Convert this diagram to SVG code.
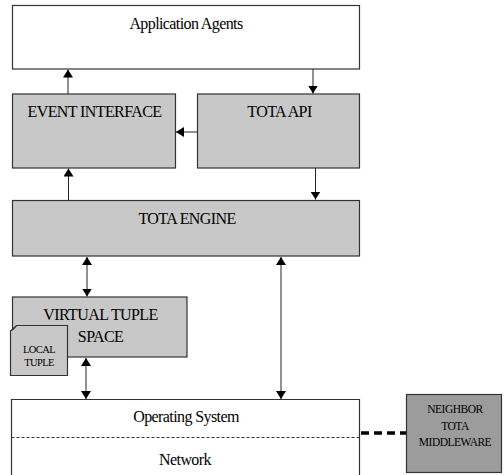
<svg xmlns="http://www.w3.org/2000/svg" width="504" height="475" viewBox="0 0 504 475">
<style>
.box{stroke:#333;stroke-width:1.2}
.white{fill:#fff}
.gray{fill:#c8c8c8}
.dark{fill:#9c9c9c}
text{font-family:'Liberation Serif','Times New Roman',Times,serif;fill:#000;text-anchor:middle}
.t{font-size:16px;letter-spacing:-0.6px}
.s{font-size:10.5px;letter-spacing:-0.6px}
.n{font-size:11.5px;letter-spacing:-0.5px}
.c{stroke:#222;stroke-width:1;fill:none}
</style>
<defs>
<marker id="ah" viewBox="0 0 10 10" refX="10" refY="5" markerWidth="8" markerHeight="10" markerUnits="userSpaceOnUse" orient="auto-start-reverse" preserveAspectRatio="none">
<path d="M0,0 L10,5 L0,10 Z" fill="#000"/>
</marker>
</defs>
<rect width="504" height="475" fill="#fff"/>
<g id="app-agents">
<rect class="box white" x="12.5" y="5.5" width="347" height="63.5"/>
<text class="t" x="186" y="29">Application Agents</text>
</g>
<g id="event-interface">
<rect class="box gray" x="12.5" y="94" width="163" height="74"/>
<text class="t" x="94.5" y="117">EVENT INTERFACE</text>
</g>
<g id="tota-api">
<rect class="box gray" x="197.5" y="94" width="162" height="74"/>
<text class="t" x="279.5" y="117">TOTA API</text>
</g>
<g id="tota-engine">
<rect class="box gray" x="12.5" y="200.5" width="347" height="55.5"/>
<text class="t" x="187" y="224">TOTA ENGINE</text>
</g>
<g id="virtual-tuple-space">
<rect class="box gray" x="12.5" y="297" width="174.5" height="60"/>
<text class="t" x="100.5" y="320">VIRTUAL TUPLE</text>
<text class="t" x="100.5" y="342">SPACE</text>
</g>
<g id="local-tuple">
<path class="box gray" d="M10.5,331 L16.5,325.5 L67.5,325.5 L67.5,375.5 L10.5,375.5 Z"/>
<path d="M10.5,331 L14,329 L16.5,325.5" fill="none" stroke="#333" stroke-width="1"/>
<text class="s" x="39" y="352.5">LOCAL</text>
<text class="s" x="39" y="365.5">TUPLE</text>
</g>
<g id="os-network">
<path class="box white" d="M11.5,477 L11.5,399.5 L359.5,399.5 L359.5,477"/>
<line x1="11.5" y1="437.5" x2="359.5" y2="437.5" stroke="#333" stroke-width="1" stroke-dasharray="3,2"/>
<text class="t" x="186" y="422">Operating System</text>
<text class="t" x="185" y="465">Network</text>
</g>
<g id="neighbor">
<rect class="box dark" x="406.5" y="394.5" width="95" height="78"/>
<text class="n" x="455" y="413">NEIGHBOR</text>
<text class="n" x="455" y="430">TOTA</text>
<text class="n" x="455" y="445.5">MIDDLEWARE</text>
</g>
<g id="connectors">
<line class="c" x1="68" y1="94" x2="68" y2="69.5" marker-end="url(#ah)"/>
<line class="c" x1="313" y1="69" x2="313" y2="93.5" marker-end="url(#ah)"/>
<line class="c" x1="197" y1="132" x2="176" y2="132" marker-end="url(#ah)"/>
<line class="c" x1="68.5" y1="200" x2="68.5" y2="168.5" marker-end="url(#ah)"/>
<line class="c" x1="315.5" y1="168" x2="315.5" y2="199.5" marker-end="url(#ah)"/>
<line class="c" x1="87" y1="257" x2="87" y2="296.5" marker-start="url(#ah)" marker-end="url(#ah)"/>
<line class="c" x1="281" y1="257" x2="281" y2="399" marker-start="url(#ah)" marker-end="url(#ah)"/>
<line class="c" x1="86" y1="358" x2="86" y2="399" marker-start="url(#ah)" marker-end="url(#ah)"/>
<line x1="361" y1="433" x2="406" y2="433" stroke="#000" stroke-width="3.5" stroke-dasharray="8,5"/>
</g>
</svg>
